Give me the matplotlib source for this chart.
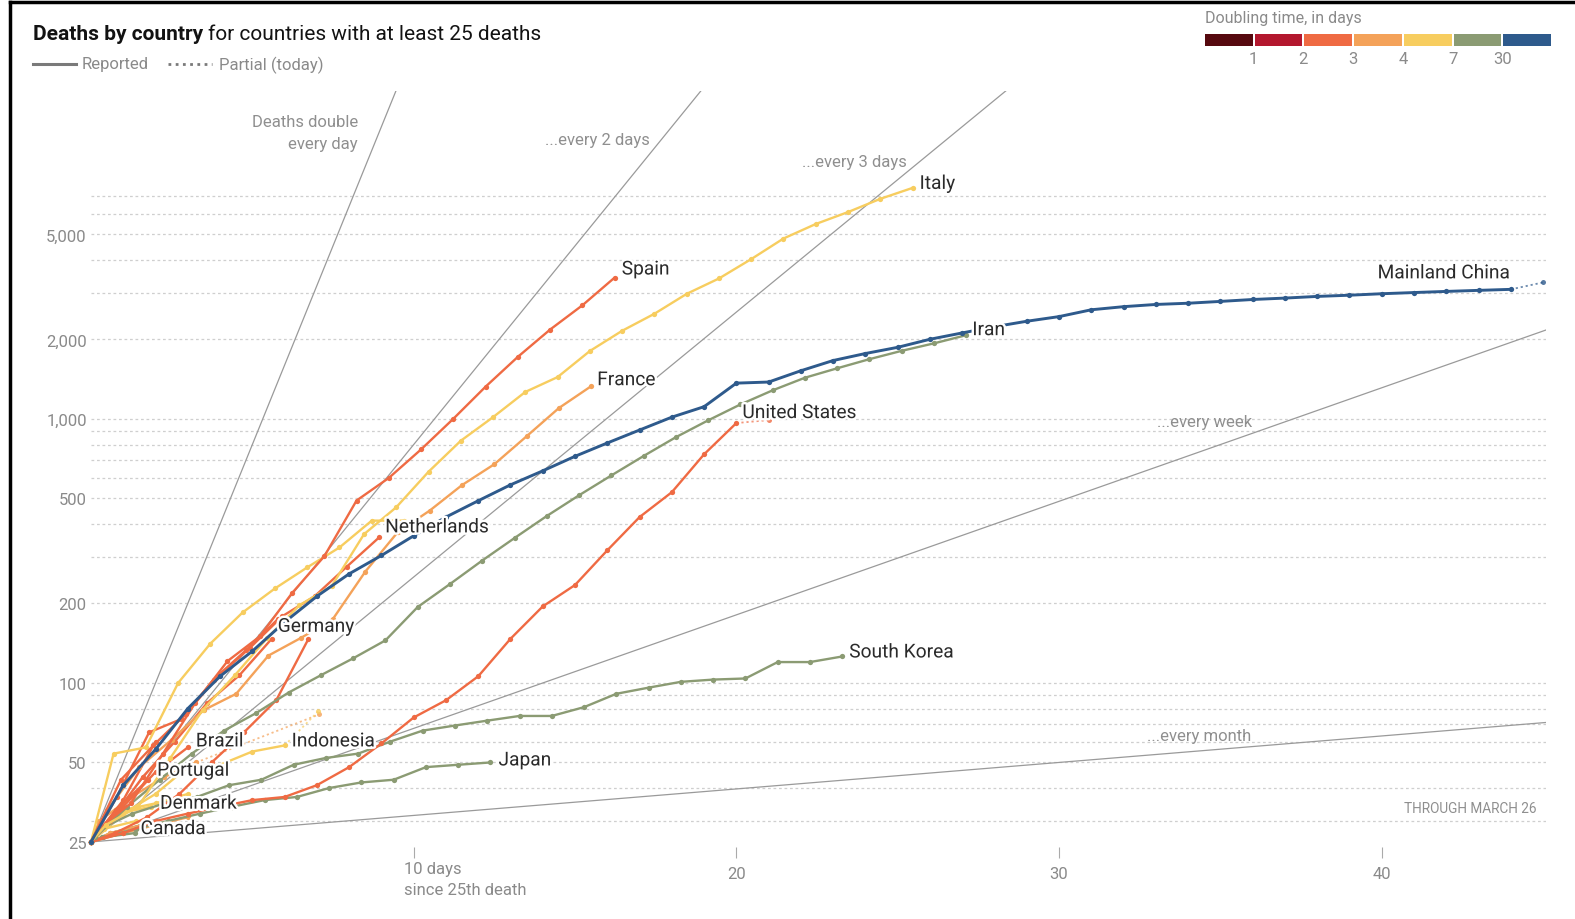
import matplotlib
matplotlib.use("Agg")
import numpy as np
import matplotlib.pyplot as plt
import matplotlib.patheffects as pe
from matplotlib.lines import Line2D
from matplotlib.patches import Rectangle

plt.rcParams['font.family'] = ['Roboto', 'DejaVu Sans']

W, H = 1575, 920
ORIGIN = 25  # every line starts at its 25th death

# ---- data: day of first point after the 25th death, then daily deaths ----
china_start = 1
china = [41, 56, 80, 106, 132, 170, 213, 259, 304, 361, 425, 490, 563, 636, 722,
         811, 908, 1016, 1113, 1367, 1380, 1523, 1665, 1770, 1868, 2004, 2118,
         2236, 2345, 2442, 2592, 2663, 2715, 2744, 2788, 2835, 2870, 2912, 2943,
         2981, 3012, 3042, 3070, 3097]
italy_start = 0.46
italy = [29, 34, 52, 79, 107, 148, 197, 233, 366, 463, 631, 827, 1016, 1266, 1441,
         1809, 2158, 2503, 2978, 3405, 4032, 4825, 5476, 6077, 6820, 7503]
spain_start = 0.23
spain = [28, 35, 54, 84, 121, 150, 219, 302, 491, 598, 767, 1002, 1326, 1720,
         2182, 2696, 3434]
france_start = 0.5
france = [33, 48, 61, 79, 91, 127, 148, 175, 264, 372, 450, 562, 674, 860, 1100, 1331]
iran_start = 0.125
iran = [26, 34, 43, 54, 66, 77, 92, 107, 124, 145, 194, 237, 291, 354, 429, 514,
        611, 724, 853, 988, 1135, 1284, 1433, 1556, 1685, 1812, 1934, 2077]
us_start = 1
us = [27, 30, 32, 34, 36, 37, 41, 48, 59, 74, 86, 106, 147, 195, 235, 318, 425,
      528, 735, 965]
netherlands_start = 0.93
netherlands = [43, 58, 76, 106, 136, 179, 213, 276, 356]
germany_start = 0.6
germany = [30, 44, 60, 84, 107, 147]
belgium_start = 0.8
belgium = [37, 65, 73, 103, 133, 175]
switzerland_start = 0.74
switzerland = [27, 31, 38, 50, 65, 86, 147]
uk_start = 0.7
uk = [54, 57, 100, 141, 185, 228, 274, 326, 412, 412]
korea_start = 0.28
korea = [28, 32, 35, 37, 41, 43, 49, 52, 54, 60, 66, 69, 72, 75, 75, 81, 91, 96,
         101, 103, 104, 120, 120, 126]
japan_start = 0.38
japan = [26, 28, 30, 32, 34, 36, 37, 40, 42, 43, 48, 49, 50]
indonesia_start = 1
indonesia = [32, 38, 48, 49, 55, 58]
brazil_start = 1
brazil = [34, 46, 57]
portugal_start = 0.77
portugal = [33, 43]
denmark_start = 0.86
denmark = [32, 34]
canada_start = 0.35
canada = [26, 27]
sweden_start = 1
sweden = [36, 60]
turkey_start = 0.26
turkey = [30, 37, 44, 50]
philippines_start = 1
philippines = [33, 35, 38]
austria_start = 0.4
austria = [28, 30]
ecuador_start = 0.6
ecuador = [27, 29]
iraq_start = 0.6
iraq = [27, 29]
dominican_start = 1
dominican = [27, 29, 31]

# partial figures for today: (day, deaths)
china_partial = (45, 3290)
us_partial = (21, 990)
indonesia_partial = (7.04, 78)
turkey_partial = (7.07, 76)

# doubling time used for the colour of each line, in days
doubling_bins = [1, 2, 3, 4, 7, 30]
bin_colors = ['#56090f', '#b3172e', '#ef6a43', '#f4a259', '#f7cd5f', '#8b9b73', '#2e5a8c']

ref_doubling = [1, 2, 3, 7, 30]
grid_values = [30, 40, 50, 60, 70, 80, 90, 100, 200, 300, 400, 500, 600, 700, 800,
               900, 1000, 2000, 3000, 4000, 5000, 6000, 7000]
y_ticks = [25, 50, 100, 200, 500, 1000, 2000, 5000]
x_ticks = [10, 20, 30, 40]

# name, start, values, doubling, partial, label, label offset (px)
countries = [
    ("Dominican", dominican_start, dominican, 3.5, None, None, None),
    ("Iraq", iraq_start, iraq, 10, None, None, None),
    ("Ecuador", ecuador_start, ecuador, 3.5, None, None, None),
    ("Austria", austria_start, austria, 5, None, None, None),
    ("Philippines", philippines_start, philippines, 5, None, None, None),
    ("Turkey", turkey_start, turkey, 3.5, turkey_partial, None, None),
    ("Sweden", sweden_start, sweden, 2.5, None, None, None),
    ("Canada", canada_start, canada, 10, None, "Canada", (6, 4)),
    ("Denmark", denmark_start, denmark, 5, None, "Denmark", (9, 3)),
    ("Portugal", portugal_start, portugal, 2.5, None, "Portugal", (9, 9)),
    ("Brazil", brazil_start, brazil, 2.5, None, "Brazil", (8, 6)),
    ("Indonesia", indonesia_start, indonesia, 5, indonesia_partial, "Indonesia", (7, 4)),
    ("Japan", japan_start, japan, 20, None, "Japan", (8, 2)),
    ("South Korea", korea_start, korea, 12, None, "South Korea", (7, 4)),
    ("Switzerland", switzerland_start, switzerland, 2.5, None, None, None),
    ("Belgium", belgium_start, belgium, 2.5, None, None, None),
    ("Germany", germany_start, germany, 2.5, None, "Germany", (6, 12)),
    ("UK", uk_start, uk, 5, None, None, None),
    ("France", france_start, france, 3.5, None, "France", (6, 6)),
    ("Netherlands", netherlands_start, netherlands, 2.5, None, "Netherlands", (6, 10)),
    ("United States", us_start, us, 2.5, us_partial, "United States", (6, 10)),
    ("Iran", iran_start, iran, 10, None, "Iran", (6, 5)),
    ("Spain", spain_start, spain, 2.5, None, "Spain", (7, 8)),
    ("Italy", italy_start, italy, 5, None, "Italy", (7, 4)),
    ("Mainland China", china_start, china, 60, china_partial, "Mainland China", (-1, 16)),
]


def color_for(doubling):
    return bin_colors[int(np.searchsorted(doubling_bins, doubling))]


fig = plt.figure(figsize=(W / 100, H / 100), dpi=100)
ax = fig.add_axes([91 / W, 1 - 847.6 / H, 1455 / W, 755.8 / H])
ax.set_yscale('log')
ax.set_xlim(0, 45.09)
ax.set_ylim(24, 17500)
for s in ax.spines.values():
    s.set_visible(False)

# dotted gridlines
ax.hlines(grid_values, 0, 45.09, colors='#cfcfcf', linestyles=(0, (2.2, 2.2)),
          linewidth=0.9, zorder=0)

# doubling reference lines
xs = np.linspace(0, 46, 400)
for T in ref_doubling:
    ax.plot(xs, ORIGIN * 2 ** (xs / T), color='#9a9a9a', lw=0.9, zorder=1)

grey = '#8f8f8f'
ref_kw = dict(color=grey, fontsize=12)
ax.text(8.27, 13400, "Deaths double", ha='right', va='center', **ref_kw)
ax.text(8.27, 11060, "every day", ha='right', va='center', **ref_kw)
ax.text(17.32, 11400, "...every 2 days", ha='right', va='center', **ref_kw)
ax.text(25.29, 9470, "...every 3 days", ha='right', va='center', **ref_kw)
ax.text(33.03, 974, "...every week", ha='left', va='center', **ref_kw)
ax.text(32.72, 63.5, "...every month", ha='left', va='center', **ref_kw)
ax.text(44.81, 33.6, "THROUGH MARCH 26", ha='right', va='center', color=grey,
        fontsize=9.8)

halo = [pe.withStroke(linewidth=3.5, foreground='white')]
for name, start, vals, dbl, partial, label, off in countries:
    col = color_for(dbl)
    x = [0] + [start + i for i in range(len(vals))]
    y = [ORIGIN] + list(vals)
    lw = 2.1 if name == "Mainland China" else 1.7
    ax.plot(x, y, '-', color=col, lw=lw, zorder=3, clip_on=False,
            solid_capstyle='round')
    ax.plot(x, y, 'o', color=col, ms=3.8, mec='none', zorder=3, clip_on=False)
    if partial is not None:
        ax.plot([x[-1], partial[0]], [y[-1], partial[1]], color=col, lw=1.3,
                ls=(0, (1.2, 1.6)), alpha=0.7, zorder=3, clip_on=False)
        ax.plot([partial[0]], [partial[1]], 'o', color=col, ms=3.6, mec='none',
                alpha=0.8, zorder=3, clip_on=False)
    if label:
        ha = 'right' if off[0] < 0 else 'left'
        ax.annotate(label, (x[-1], y[-1]), xytext=off, textcoords='offset pixels',
                    ha=ha, va='center', fontsize=13.8, color='#2b2b2b', zorder=6,
                    path_effects=halo)

# axes ticks
ax.set_yticks(y_ticks)
ax.set_yticklabels([f"{v:,}" for v in y_ticks])
ax.yaxis.set_minor_locator(matplotlib.ticker.NullLocator())
ax.tick_params(axis='y', length=0, pad=3, labelsize=12, labelcolor='#8a8a8a')
ax.set_xticks(x_ticks)
ax.set_xticklabels(['', '20', '30', '40'])
ax.tick_params(axis='x', length=8, width=0.8, color='#aaaaaa', pad=6,
               labelsize=12, labelcolor='#8a8a8a')
ax.annotate("10 days\nsince 25th death", (10, 0), xycoords=('data', 'axes fraction'),
            xytext=(-10, -14), textcoords='offset pixels', ha='left', va='top',
            fontsize=12, color='#8a8a8a', linespacing=1.5)

# title with bold lead
fig.canvas.draw()
r = fig.canvas.get_renderer()
t1 = fig.text(33 / W, 1 - 35 / H, "Deaths by country", fontsize=15, fontweight='bold',
              color='#121212', va='center', ha='left')
bb = t1.get_window_extent(renderer=r)
fig.text((bb.x1 + 5) / W, 1 - 35 / H, "for countries with at least 25 deaths",
         fontsize=15, color='#121212', va='center', ha='left')

# line-style legend
ly = 1 - 65 / H
fig.add_artist(Line2D([33 / W, 76 / W], [ly, ly], color='#7a7a7a', lw=2.2))
fig.text(82 / W, ly, "Reported", fontsize=12, color='#8a8a8a', va='center')
fig.add_artist(Line2D([168 / W, 212 / W], [ly, ly], color='#7a7a7a', lw=2.0,
                      ls=(0, (1, 1.6))))
fig.text(219 / W, ly, "Partial (today)", fontsize=12, color='#8a8a8a', va='center')

# doubling-time colour legend
fig.text(1205 / W, 1 - 18 / H, "Doubling time, in days", fontsize=11.5, color='#8a8a8a',
         va='center', ha='left')
seg = 348 / 7
for i, c in enumerate(bin_colors):
    fig.add_artist(Rectangle(((1205 + i * seg) / W, 1 - 47 / H), (seg - 2) / W, 12 / H,
                             transform=fig.transFigure, color=c, lw=0))
for i, b in enumerate(doubling_bins):
    fig.text((1205 + (i + 1) * seg - 1) / W, 1 - 60 / H, str(b), fontsize=12,
             color='#8a8a8a', ha='center', va='center')

# screenshot frame
fig.add_artist(Line2D([10 / W, 1], [1 - 3 / H, 1 - 3 / H], color='black', lw=2.5))
fig.add_artist(Line2D([10 / W, 10 / W], [0, 1 - 3 / H], color='black', lw=2.5))

fig.savefig("out.png", dpi=100)
